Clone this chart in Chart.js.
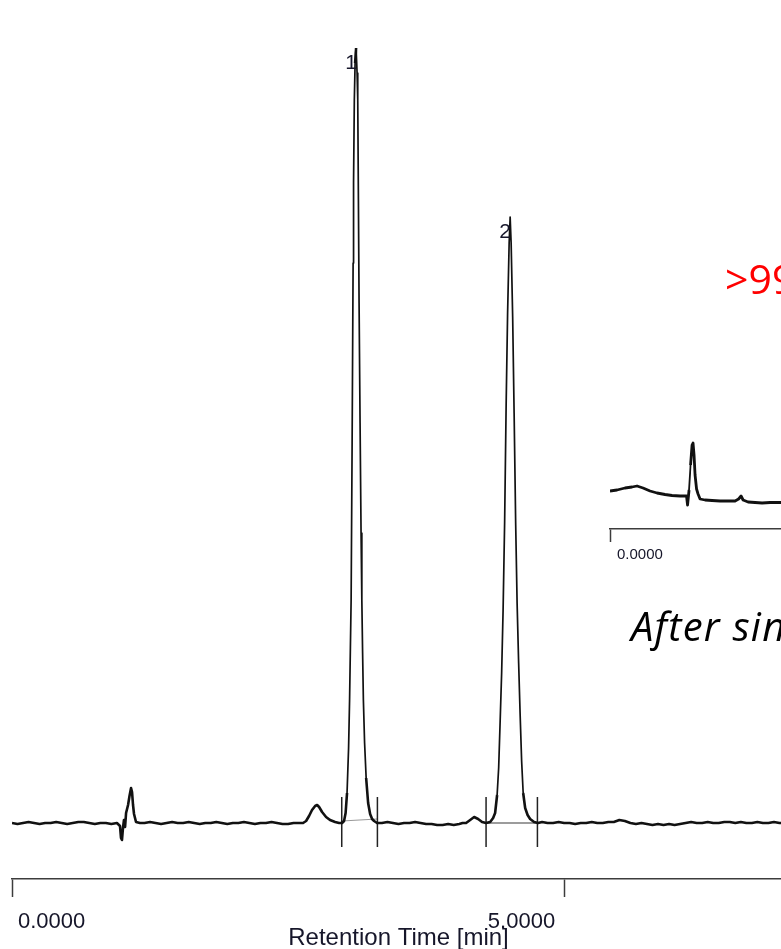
<!DOCTYPE html>
<html>
<head>
<meta charset="utf-8">
<title>Chromatogram</title>
<script src="https://cdn.jsdelivr.net/npm/chart.js@4.4.1/dist/chart.umd.min.js"></script>
<style>
  html, body { margin: 0; padding: 0; background: #fff; }
  body { width: 781px; height: 949px; overflow: hidden; position: relative; }
  #main { position: absolute; left: 0; top: 0; width: 785px; height: 949px; }
  #inset { position: absolute; left: 604px; top: 430px; width: 184px; height: 135px; }
  .note { position: absolute; white-space: nowrap; font-family: "Open Sans", Lato, sans-serif; line-height: 1; }
  #purity { left: 725px; top: 258px; font-size: 41px; color: #ff0000; }
  #after { left: 631px; top: 606px; font-size: 40px; font-style: italic; letter-spacing: 1.2px; color: #000; }
</style>
</head>
<body>
<div id="main"><canvas id="chromChart"></canvas></div>
<div id="inset"><canvas id="insetChart"></canvas></div>
<div class="note" id="purity">&gt;99% ee</div>
<div class="note" id="after">After single recrystallization</div>
<script>
// Main chromatogram: retention time (min) and detector signal (baseline-corrected units)
const retentionTime = [
  0.00,0.05,0.10,0.15,0.20,0.25,0.30,0.35,0.40,0.45,0.50,0.55,0.60,0.65,0.70,0.75,0.80,0.85,0.90,0.95,
  0.978,0.987,0.996,1.005,1.014,1.024,1.033,1.051,1.064,1.078,1.087,1.096,1.105,1.123,1.159,
  1.20,1.25,1.30,1.35,1.40,1.45,1.50,1.55,1.60,1.65,1.70,1.75,1.80,1.85,1.90,1.95,2.00,2.05,2.10,2.15,2.20,2.25,2.30,2.35,2.40,2.45,2.50,2.55,2.60,
  2.636,2.663,2.690,2.717,2.745,2.763,2.781,2.808,2.844,2.880,2.926,2.962,
  2.989,3.007,3.021,3.034,3.048,3.057,3.071,3.080,3.089,3.093,3.100,3.107,3.116,3.125,3.131,3.137,3.143,3.152,3.161,3.168,3.175,3.182,3.193,3.207,3.225,3.243,3.261,3.279,3.306,
  3.35,3.40,3.45,3.50,3.55,3.60,3.65,3.70,3.75,3.80,3.85,3.90,3.95,4.00,4.05,4.08,
  4.112,4.149,4.185,4.221,4.257,
  4.293,4.330,4.357,4.375,4.393,4.407,4.420,4.434,4.447,4.461,4.475,4.488,4.502,4.511,4.520,4.534,4.547,4.561,4.574,4.588,4.601,4.615,4.629,4.647,4.669,4.692,4.728,4.764,
  4.80,4.85,4.90,4.95,5.00,5.05,5.10,5.15,5.20,5.25,5.30,5.35,5.40,5.45,5.50,5.55,5.60,5.65,5.70,5.75,5.80,5.85,5.90,5.95,6.00,6.05,6.10,6.15,6.20,6.25,6.30,6.35,6.40,6.45,6.50,6.55,6.60,6.65,6.70,6.75,6.80,6.85,6.90,6.95,7.00
];
const detectorSignal = [
  0,-1,0,1,0,-1,0,0,1,0,-1,0,1,1,0,-1,0,0,-1,0,
  -3,-15,-17,-5,3,-4,10,18,27,35,31,18,9,1,0,
  0,1,0,-1,0,1,0,0,1,0,-1,0,0,1,0,-1,0,0,1,0,-1,0,0,1,0,-1,-1,0,0,
  0,2,7,13,17,18,16,11,6,3,1,0,
  0,2,10,30,75,123,223,380,560,640,723,760,775,750,723,623,520,400,290,223,170,123,80,45,20,9,4,2,0,
  0,1,0,-1,0,0,1,0,-1,-1,-2,-2,-1,-2,-1,0,
  0,3,6,4,1,
  0,1,5,10,28,55,100,150,212,300,420,510,580,606,580,505,410,300,220,160,110,62,30,15,8,4,1,0,
  1,0,0,1,0,0,-1,0,0,1,0,0,1,1,3,2,0,-1,0,-1,-2,-1,-2,-1,-2,-1,0,1,0,0,1,0,0,1,1,0,1,0,0,1,0,0,1,0,0
];

// Integrated peaks: numbers, apex times, integration window and baseline levels
const peakNumbers = ['1', '2'];
const peakApexTimes = [3.116, 4.511];
const peakWindowStart = [2.986, 4.293];
const peakWindowEnd = [3.309, 4.758];
const windowBaseStart = [2, 0];
const windowBaseEnd = [4, 0];

// Axis ticks (min)
const axisTicks = [0, 5];

// Inset chromatogram (after recrystallization)
const insetTime = [
  0,0.264,0.565,0.829,1.017,1.243,1.507,1.770,2.072,2.335,2.637,2.881,2.919,2.976,3.032,3.089,3.126,3.164,
  3.202,3.258,3.315,3.390,3.578,3.842,4.143,4.444,4.708,4.840,4.934,5.010,5.198,5.461,5.725,6.026,6.441,6.70
];
const insetSignal = [
  11,12,14,15,16,14,11,9,7.5,6.5,6,6,-3,12,37,57,59,47,
  27,13,8,3,2,1.5,1,1,1,3,6,2,0,-0.5,-1,-0.5,-0.5,-0.5
];
const insetTicks = [0];

const TEXT_COLOR = '#16162a';
const AXIS_COLOR = '#3c3c3c';

function xyPairs(xs, ys) { return xs.map((v, i) => ({ x: v, y: ys[i] })); }

// Steep peak flanks are drawn with a finer pen than the baseline
function traceWidth(thick, thin) {
  return ctx => {
    const dy = Math.abs(ctx.p1.y - ctx.p0.y);
    const dx = Math.abs(ctx.p1.x - ctx.p0.x);
    return (dy > 25 && dy > 4 * dx) ? thin : thick;
  };
}

// Integration marks: vertical delimiters and the drawn peak baselines
const markerDatasets = [];
peakWindowStart.forEach((t0, i) => {
  const t1 = peakWindowEnd[i];
  [t0, t1].forEach(t => {
    markerDatasets.push({
      data: [{ x: t, y: 26 }, { x: t, y: -24 }],
      borderColor: '#222', borderWidth: 1.5, pointRadius: 0, tension: 0
    });
  });
  markerDatasets.push({
    data: [{ x: t0, y: windowBaseStart[i] }, { x: t1, y: windowBaseEnd[i] }],
    borderColor: i === 0 ? '#9a9a9a' : '#3a3a3a', borderWidth: 1.2, pointRadius: 0, tension: 0
  });
});

const mainLabels = {
  id: 'mainLabels',
  afterDraw(chart) {
    const { ctx, scales: { x, y } } = chart;
    ctx.save();
    ctx.fillStyle = TEXT_COLOR;
    ctx.textBaseline = 'alphabetic';
    // peak numbers at each apex
    ctx.font = '21px "Liberation Sans Narrow", "Liberation Sans", sans-serif';
    ctx.textAlign = 'center';
    peakNumbers.forEach((lbl, i) => {
      const t = peakApexTimes[i];
      const k = retentionTime.indexOf(t);
      const px = x.getPixelForValue(t);
      const py = y.getPixelForValue(detectorSignal[k]);
      ctx.fillText(lbl, px - 5, py + 21);
    });
    // tick labels
    ctx.font = '22px "Liberation Sans", Arial, sans-serif';
    axisTicks.forEach((v, i) => {
      const px = x.getPixelForValue(v);
      const txt = v.toFixed(4);
      if (i === 0) { ctx.textAlign = 'left'; ctx.fillText(txt, px + 6, x.top + 49); }
      else { ctx.textAlign = 'right'; ctx.fillText(txt, px - 9, x.top + 49); }
    });
    // axis title
    ctx.font = '24px "Liberation Sans", Arial, sans-serif';
    ctx.textAlign = 'center';
    ctx.fillText('Retention Time [min]', (x.left + x.right) / 2, x.top + 66);
    ctx.restore();
  }
};

new Chart(document.getElementById('chromChart'), {
  type: 'line',
  data: {
    datasets: [
      {
        data: xyPairs(retentionTime, detectorSignal),
        borderColor: '#111', borderWidth: 2.6, pointRadius: 0, tension: 0,
        borderJoinStyle: 'round',
        segment: { borderWidth: traceWidth(2.6, 1.7) }
      },
      ...markerDatasets
    ]
  },
  options: {
    responsive: true, maintainAspectRatio: false, animation: false, events: [],
    layout: { padding: { left: 12, right: 0, top: 0, bottom: 0 } },
    plugins: { legend: { display: false }, tooltip: { enabled: false } },
    scales: {
      x: {
        type: 'linear', min: 0, max: 7,
        afterBuildTicks: s => { s.ticks = axisTicks.map(v => ({ value: v })); },
        afterFit: s => { s.height = 70; },
        ticks: { display: false },
        grid: { drawOnChartArea: false, drawTicks: true, tickLength: 18, tickColor: AXIS_COLOR, tickWidth: 1.5 },
        border: { display: true, color: AXIS_COLOR, width: 1.5 }
      },
      y: { display: false, min: -56, max: 823 }
    }
  },
  plugins: [mainLabels]
});

const insetLabels = {
  id: 'insetLabels',
  afterDraw(chart) {
    const { ctx, scales: { x } } = chart;
    ctx.save();
    ctx.fillStyle = TEXT_COLOR;
    ctx.font = '15px "Liberation Sans", Arial, sans-serif';
    ctx.textAlign = 'left';
    ctx.textBaseline = 'alphabetic';
    insetTicks.forEach(v => {
      ctx.fillText(v.toFixed(4), x.getPixelForValue(v) + 7, x.top + 30);
    });
    ctx.restore();
  }
};

new Chart(document.getElementById('insetChart'), {
  type: 'line',
  data: {
    datasets: [{
      data: xyPairs(insetTime, insetSignal),
      borderColor: '#111', borderWidth: 2.8, pointRadius: 0, tension: 0, borderJoinStyle: 'round',
      segment: { borderWidth: traceWidth(2.8, 1.8) }
    }]
  },
  options: {
    responsive: true, maintainAspectRatio: false, animation: false, events: [],
    layout: { padding: { left: 6, right: 0, top: 0, bottom: 0 } },
    plugins: { legend: { display: false }, tooltip: { enabled: false } },
    scales: {
      x: {
        type: 'linear', min: 0, max: 6.7,
        afterBuildTicks: s => { s.ticks = insetTicks.map(v => ({ value: v })); },
        afterFit: s => { s.height = 36; },
        ticks: { display: false },
        grid: { drawOnChartArea: false, drawTicks: true, tickLength: 13, tickColor: AXIS_COLOR, tickWidth: 1.5 },
        border: { display: true, color: AXIS_COLOR, width: 1.5 }
      },
      y: { display: false, min: -27, max: 72 }
    }
  },
  plugins: [insetLabels]
});
</script>
</body>
</html>
